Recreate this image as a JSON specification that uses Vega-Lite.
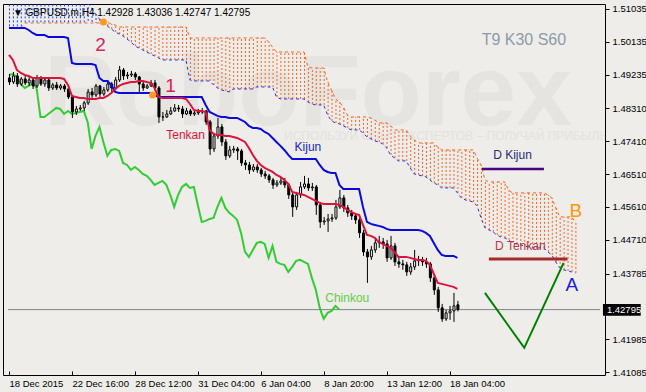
{
"$schema": "https://vega.github.io/schema/vega-lite/v6.json",
"width": 602, "height": 371,
"autosize": {"type": "none"},
"padding": {"left": 3, "top": 4, "right": 41, "bottom": 17},
"background": "#EEEDE9",
"config": {"view": {"stroke": "#000000", "strokeWidth": 1, "fill": "#EEEDE9"}, "font": "Liberation Sans"},
"resolve": {"axis": {"y": "independent"}},
"datasets": {
"candles": [
{"i":0,"o":1.49145,"h":1.49254,"l":1.48953,"c":1.49035,"t":1.49775,"k":1.50515},
{"i":1,"o":1.49035,"h":1.49309,"l":1.48980,"c":1.49200,"t":1.49638,"k":1.50515},
{"i":2,"o":1.49200,"h":1.49282,"l":1.48898,"c":1.48980,"t":1.49364,"k":1.50515},
{"i":3,"o":1.48980,"h":1.49172,"l":1.48926,"c":1.49117,"t":1.49282,"k":1.50515},
{"i":4,"o":1.49117,"h":1.49200,"l":1.48953,"c":1.49008,"t":1.49227,"k":1.50515},
{"i":5,"o":1.49008,"h":1.49172,"l":1.48926,"c":1.49090,"t":1.49200,"k":1.50460},
{"i":6,"o":1.49090,"h":1.49145,"l":1.48843,"c":1.48926,"t":1.49145,"k":1.50378},
{"i":7,"o":1.48926,"h":1.49227,"l":1.48871,"c":1.49145,"t":1.49145,"k":1.50323},
{"i":8,"o":1.49145,"h":1.49200,"l":1.48926,"c":1.48980,"t":1.49145,"k":1.50323},
{"i":9,"o":1.48980,"h":1.49145,"l":1.48898,"c":1.49090,"t":1.49145,"k":1.50323},
{"i":10,"o":1.49090,"h":1.49172,"l":1.48789,"c":1.48871,"t":1.49145,"k":1.50268},
{"i":11,"o":1.48871,"h":1.49008,"l":1.48816,"c":1.48953,"t":1.49145,"k":1.50268},
{"i":12,"o":1.48953,"h":1.49035,"l":1.48816,"c":1.48871,"t":1.49145,"k":1.50268},
{"i":13,"o":1.48871,"h":1.48980,"l":1.48816,"c":1.48926,"t":1.49145,"k":1.50268},
{"i":14,"o":1.48926,"h":1.48980,"l":1.48761,"c":1.48843,"t":1.49117,"k":1.50268},
{"i":15,"o":1.48843,"h":1.48926,"l":1.48569,"c":1.48624,"t":1.48953,"k":1.50241},
{"i":16,"o":1.48624,"h":1.48679,"l":1.48049,"c":1.48213,"t":1.48652,"k":1.49556},
{"i":17,"o":1.48213,"h":1.48378,"l":1.48131,"c":1.48295,"t":1.48624,"k":1.49528},
{"i":18,"o":1.48295,"h":1.48405,"l":1.48241,"c":1.48323,"t":1.48597,"k":1.49528},
{"i":19,"o":1.48323,"h":1.48515,"l":1.48241,"c":1.48460,"t":1.48597,"k":1.49528},
{"i":20,"o":1.48460,"h":1.48843,"l":1.48405,"c":1.48761,"t":1.48569,"k":1.49528},
{"i":21,"o":1.48761,"h":1.48871,"l":1.48597,"c":1.48679,"t":1.48569,"k":1.49528},
{"i":22,"o":1.48679,"h":1.48980,"l":1.48624,"c":1.48926,"t":1.48569,"k":1.49501},
{"i":23,"o":1.48926,"h":1.48953,"l":1.48624,"c":1.48706,"t":1.48597,"k":1.49145},
{"i":24,"o":1.48706,"h":1.48898,"l":1.48652,"c":1.48816,"t":1.48597,"k":1.49063},
{"i":25,"o":1.48816,"h":1.49090,"l":1.48761,"c":1.48980,"t":1.48652,"k":1.49063},
{"i":26,"o":1.48980,"h":1.49035,"l":1.48761,"c":1.48871,"t":1.48734,"k":1.48953},
{"i":27,"o":1.48871,"h":1.49172,"l":1.48816,"c":1.49090,"t":1.48843,"k":1.48761},
{"i":28,"o":1.49090,"h":1.49474,"l":1.49035,"c":1.49364,"t":1.48926,"k":1.48734},
{"i":29,"o":1.49364,"h":1.49419,"l":1.49090,"c":1.49200,"t":1.48980,"k":1.48734},
{"i":30,"o":1.49200,"h":1.49309,"l":1.49117,"c":1.49227,"t":1.49008,"k":1.48734},
{"i":31,"o":1.49227,"h":1.49337,"l":1.49172,"c":1.49254,"t":1.49035,"k":1.48734},
{"i":32,"o":1.49254,"h":1.49309,"l":1.49090,"c":1.49172,"t":1.49035,"k":1.48734},
{"i":33,"o":1.49172,"h":1.49200,"l":1.48761,"c":1.48980,"t":1.49063,"k":1.48734},
{"i":34,"o":1.48980,"h":1.49035,"l":1.48789,"c":1.48871,"t":1.49063,"k":1.48734},
{"i":35,"o":1.48871,"h":1.48980,"l":1.48843,"c":1.48926,"t":1.49035,"k":1.48734},
{"i":36,"o":1.48926,"h":1.49090,"l":1.48898,"c":1.49008,"t":1.49008,"k":1.48734},
{"i":37,"o":1.49008,"h":1.49090,"l":1.48789,"c":1.48871,"t":1.48871,"k":1.48679},
{"i":38,"o":1.48871,"h":1.48926,"l":1.47912,"c":1.48076,"t":1.48624,"k":1.48624},
{"i":39,"o":1.48076,"h":1.48213,"l":1.47967,"c":1.48076,"t":1.48597,"k":1.48624},
{"i":40,"o":1.48076,"h":1.48268,"l":1.48049,"c":1.48158,"t":1.48597,"k":1.48624},
{"i":41,"o":1.48158,"h":1.48350,"l":1.48131,"c":1.48241,"t":1.48597,"k":1.48624},
{"i":42,"o":1.48241,"h":1.48432,"l":1.48213,"c":1.48323,"t":1.48597,"k":1.48624},
{"i":43,"o":1.48323,"h":1.48405,"l":1.48213,"c":1.48295,"t":1.48597,"k":1.48624},
{"i":44,"o":1.48295,"h":1.48378,"l":1.48049,"c":1.48158,"t":1.48597,"k":1.48624},
{"i":45,"o":1.48158,"h":1.48323,"l":1.48131,"c":1.48241,"t":1.48569,"k":1.48624},
{"i":46,"o":1.48241,"h":1.48295,"l":1.48104,"c":1.48158,"t":1.48432,"k":1.48624},
{"i":47,"o":1.48158,"h":1.48268,"l":1.48104,"c":1.48186,"t":1.48268,"k":1.48624},
{"i":48,"o":1.48186,"h":1.48295,"l":1.48131,"c":1.48213,"t":1.48241,"k":1.48624},
{"i":49,"o":1.48213,"h":1.48323,"l":1.48158,"c":1.48241,"t":1.48241,"k":1.48624},
{"i":50,"o":1.48241,"h":1.48268,"l":1.47857,"c":1.47939,"t":1.48213,"k":1.48405},
{"i":51,"o":1.47939,"h":1.47994,"l":1.47035,"c":1.47199,"t":1.47720,"k":1.48213},
{"i":52,"o":1.47199,"h":1.47638,"l":1.47117,"c":1.47556,"t":1.47610,"k":1.48158},
{"i":53,"o":1.47556,"h":1.48049,"l":1.47473,"c":1.47802,"t":1.47583,"k":1.48104},
{"i":54,"o":1.47802,"h":1.47884,"l":1.47282,"c":1.47391,"t":1.47583,"k":1.48076},
{"i":55,"o":1.47391,"h":1.47473,"l":1.46898,"c":1.47008,"t":1.47556,"k":1.48076},
{"i":56,"o":1.47008,"h":1.47282,"l":1.46953,"c":1.47172,"t":1.47556,"k":1.48049},
{"i":57,"o":1.47172,"h":1.47282,"l":1.47090,"c":1.47199,"t":1.47528,"k":1.48049},
{"i":58,"o":1.47199,"h":1.47254,"l":1.46898,"c":1.47145,"t":1.47501,"k":1.48049},
{"i":59,"o":1.47145,"h":1.47199,"l":1.46734,"c":1.46816,"t":1.47446,"k":1.47994},
{"i":60,"o":1.46816,"h":1.46898,"l":1.46624,"c":1.46761,"t":1.47391,"k":1.47939},
{"i":61,"o":1.46761,"h":1.46843,"l":1.46514,"c":1.46624,"t":1.47227,"k":1.47830},
{"i":62,"o":1.46624,"h":1.46788,"l":1.46569,"c":1.46706,"t":1.47035,"k":1.47775},
{"i":63,"o":1.46706,"h":1.46788,"l":1.46542,"c":1.46624,"t":1.46871,"k":1.47775},
{"i":64,"o":1.46624,"h":1.46679,"l":1.46432,"c":1.46514,"t":1.46761,"k":1.47747},
{"i":65,"o":1.46514,"h":1.46597,"l":1.46377,"c":1.46460,"t":1.46679,"k":1.47665},
{"i":66,"o":1.46460,"h":1.46514,"l":1.46268,"c":1.46350,"t":1.46624,"k":1.47610},
{"i":67,"o":1.46350,"h":1.46405,"l":1.46103,"c":1.46213,"t":1.46569,"k":1.47501},
{"i":68,"o":1.46213,"h":1.46350,"l":1.46158,"c":1.46268,"t":1.46487,"k":1.47391},
{"i":69,"o":1.46268,"h":1.46405,"l":1.46213,"c":1.46323,"t":1.46432,"k":1.47282},
{"i":70,"o":1.46323,"h":1.46405,"l":1.46131,"c":1.46213,"t":1.46350,"k":1.47172},
{"i":71,"o":1.46213,"h":1.46268,"l":1.45829,"c":1.45939,"t":1.46240,"k":1.47035},
{"i":72,"o":1.45939,"h":1.45994,"l":1.45336,"c":1.45610,"t":1.46021,"k":1.46925},
{"i":73,"o":1.45610,"h":1.46021,"l":1.45528,"c":1.45939,"t":1.45994,"k":1.46925},
{"i":74,"o":1.45939,"h":1.46295,"l":1.45857,"c":1.46158,"t":1.45966,"k":1.46925},
{"i":75,"o":1.46158,"h":1.46460,"l":1.46103,"c":1.46240,"t":1.45939,"k":1.46925},
{"i":76,"o":1.46240,"h":1.46405,"l":1.46049,"c":1.46131,"t":1.45884,"k":1.46925},
{"i":77,"o":1.46131,"h":1.46268,"l":1.46049,"c":1.46158,"t":1.45829,"k":1.46925},
{"i":78,"o":1.46158,"h":1.46213,"l":1.45391,"c":1.45665,"t":1.45775,"k":1.46925},
{"i":79,"o":1.45665,"h":1.45747,"l":1.45035,"c":1.45199,"t":1.45720,"k":1.46761},
{"i":80,"o":1.45199,"h":1.45336,"l":1.45117,"c":1.45227,"t":1.45692,"k":1.46624},
{"i":81,"o":1.45227,"h":1.45418,"l":1.44925,"c":1.45281,"t":1.45692,"k":1.46569},
{"i":82,"o":1.45281,"h":1.45418,"l":1.45199,"c":1.45309,"t":1.45692,"k":1.46542},
{"i":83,"o":1.45309,"h":1.45802,"l":1.45254,"c":1.45610,"t":1.45692,"k":1.46542},
{"i":84,"o":1.45610,"h":1.46076,"l":1.45555,"c":1.45857,"t":1.45665,"k":1.46213},
{"i":85,"o":1.45857,"h":1.45939,"l":1.45473,"c":1.45583,"t":1.45610,"k":1.46103},
{"i":86,"o":1.45583,"h":1.45665,"l":1.45336,"c":1.45446,"t":1.45528,"k":1.46103},
{"i":87,"o":1.45446,"h":1.45528,"l":1.45254,"c":1.45364,"t":1.45473,"k":1.46103},
{"i":88,"o":1.45364,"h":1.45446,"l":1.45144,"c":1.45254,"t":1.45418,"k":1.46103},
{"i":89,"o":1.45254,"h":1.45336,"l":1.44761,"c":1.44898,"t":1.45391,"k":1.46103},
{"i":90,"o":1.44898,"h":1.44980,"l":1.44268,"c":1.44377,"t":1.45117,"k":1.45610},
{"i":91,"o":1.44377,"h":1.44459,"l":1.43528,"c":1.44240,"t":1.44843,"k":1.45199},
{"i":92,"o":1.44240,"h":1.44542,"l":1.44158,"c":1.44432,"t":1.44816,"k":1.45144},
{"i":93,"o":1.44432,"h":1.44761,"l":1.44350,"c":1.44624,"t":1.44761,"k":1.45117},
{"i":94,"o":1.44624,"h":1.44816,"l":1.44487,"c":1.44651,"t":1.44651,"k":1.45090},
{"i":95,"o":1.44651,"h":1.44761,"l":1.44459,"c":1.44596,"t":1.44596,"k":1.45062},
{"i":96,"o":1.44596,"h":1.44706,"l":1.44103,"c":1.44213,"t":1.44542,"k":1.45007},
{"i":97,"o":1.44213,"h":1.44816,"l":1.44158,"c":1.44542,"t":1.44487,"k":1.44980},
{"i":98,"o":1.44542,"h":1.44624,"l":1.43994,"c":1.44103,"t":1.44377,"k":1.44980},
{"i":99,"o":1.44103,"h":1.44213,"l":1.43939,"c":1.44048,"t":1.44240,"k":1.44980},
{"i":100,"o":1.44048,"h":1.44158,"l":1.43884,"c":1.44021,"t":1.44240,"k":1.44980},
{"i":101,"o":1.44021,"h":1.44103,"l":1.43720,"c":1.43829,"t":1.44240,"k":1.44980},
{"i":102,"o":1.43829,"h":1.44076,"l":1.43747,"c":1.43966,"t":1.44213,"k":1.44980},
{"i":103,"o":1.43966,"h":1.44432,"l":1.43884,"c":1.44131,"t":1.44185,"k":1.44980},
{"i":104,"o":1.44131,"h":1.44268,"l":1.43994,"c":1.44158,"t":1.44158,"k":1.44980},
{"i":105,"o":1.44158,"h":1.44240,"l":1.43994,"c":1.44103,"t":1.44158,"k":1.44953},
{"i":106,"o":1.44103,"h":1.44213,"l":1.43939,"c":1.44048,"t":1.44131,"k":1.44898},
{"i":107,"o":1.44048,"h":1.44103,"l":1.43555,"c":1.43665,"t":1.44021,"k":1.44816},
{"i":108,"o":1.43665,"h":1.43774,"l":1.43199,"c":1.43336,"t":1.43774,"k":1.44624},
{"i":109,"o":1.43336,"h":1.43418,"l":1.42733,"c":1.42843,"t":1.43528,"k":1.44432},
{"i":110,"o":1.42843,"h":1.42952,"l":1.42459,"c":1.42541,"t":1.43500,"k":1.44295},
{"i":111,"o":1.42541,"h":1.42788,"l":1.42487,"c":1.42706,"t":1.43473,"k":1.44268},
{"i":112,"o":1.42706,"h":1.42898,"l":1.42514,"c":1.42761,"t":1.43446,"k":1.44268},
{"i":113,"o":1.42761,"h":1.43254,"l":1.42459,"c":1.42898,"t":1.43418,"k":1.44268},
{"i":114,"o":1.42928,"h":1.43036,"l":1.42747,"c":1.42795,"t":1.43363,"k":1.44213}
],
"cloud": [
{"i":0,"a":1.516,"b":1.50515},{"i":1,"a":1.516,"b":1.50515},{"i":2,"a":1.516,"b":1.50515},{"i":3,"a":1.516,"b":1.50515},
{"i":4,"a":1.516,"b":1.50652},{"i":5,"a":1.516,"b":1.50652},{"i":6,"a":1.516,"b":1.50652},{"i":7,"a":1.516,"b":1.50652},
{"i":8,"a":1.516,"b":1.50652},{"i":9,"a":1.516,"b":1.50652},{"i":10,"a":1.516,"b":1.50652},{"i":11,"a":1.516,"b":1.50652},
{"i":12,"a":1.516,"b":1.50652},{"i":13,"a":1.516,"b":1.50652},{"i":14,"a":1.516,"b":1.50652},{"i":15,"a":1.516,"b":1.50652},
{"i":16,"a":1.516,"b":1.50652},{"i":17,"a":1.516,"b":1.50652},{"i":18,"a":1.516,"b":1.50652},{"i":19,"a":1.516,"b":1.50652},
{"i":20,"a":1.51200,"b":1.50652},{"i":21,"a":1.51063,"b":1.50652},{"i":22,"a":1.50898,"b":1.50652},{"i":23,"a":1.50761,"b":1.50652},
{"i":24,"a":1.50652,"b":1.50679},{"i":25,"a":1.50570,"b":1.50679},{"i":26,"a":1.50487,"b":1.50624},{"i":27,"a":1.50405,"b":1.50597},
{"i":28,"a":1.50350,"b":1.50542},{"i":29,"a":1.50296,"b":1.50542},{"i":30,"a":1.50213,"b":1.50542},{"i":31,"a":1.50131,"b":1.50542},
{"i":32,"a":1.50022,"b":1.50542},{"i":33,"a":1.49967,"b":1.50542},{"i":34,"a":1.49912,"b":1.50542},{"i":35,"a":1.49857,"b":1.50542},
{"i":36,"a":1.49802,"b":1.50542},{"i":37,"a":1.49748,"b":1.50542},{"i":38,"a":1.49693,"b":1.50542},{"i":39,"a":1.49638,"b":1.50542},
{"i":40,"a":1.49638,"b":1.50542},{"i":41,"a":1.49638,"b":1.50542},{"i":42,"a":1.49638,"b":1.50542},{"i":43,"a":1.49638,"b":1.50542},
{"i":44,"a":1.49638,"b":1.50542},{"i":45,"a":1.49638,"b":1.50542},{"i":46,"a":1.49090,"b":1.50241},{"i":47,"a":1.49063,"b":1.50241},
{"i":48,"a":1.49063,"b":1.50241},{"i":49,"a":1.49063,"b":1.50241},{"i":50,"a":1.49063,"b":1.50241},{"i":51,"a":1.49063,"b":1.50241},
{"i":52,"a":1.48953,"b":1.50241},{"i":53,"a":1.48871,"b":1.50241},{"i":54,"a":1.48816,"b":1.50241},{"i":55,"a":1.48789,"b":1.50241},
{"i":56,"a":1.48761,"b":1.50241},{"i":57,"a":1.48843,"b":1.50241},{"i":58,"a":1.48843,"b":1.50241},{"i":59,"a":1.48843,"b":1.50241},
{"i":60,"a":1.48843,"b":1.50241},{"i":61,"a":1.48843,"b":1.50241},{"i":62,"a":1.48843,"b":1.50241},{"i":63,"a":1.48898,"b":1.50241},
{"i":64,"a":1.48898,"b":1.50241},{"i":65,"a":1.48898,"b":1.50241},{"i":66,"a":1.48898,"b":1.50131},{"i":67,"a":1.48898,"b":1.49994},
{"i":68,"a":1.48624,"b":1.49857},{"i":69,"a":1.48569,"b":1.49857},{"i":70,"a":1.48569,"b":1.49857},{"i":71,"a":1.48569,"b":1.49857},
{"i":72,"a":1.48569,"b":1.49857},{"i":73,"a":1.48569,"b":1.49857},{"i":74,"a":1.48569,"b":1.49857},{"i":75,"a":1.48569,"b":1.49857},
{"i":76,"a":1.48487,"b":1.49446},{"i":77,"a":1.48432,"b":1.49419},{"i":78,"a":1.48405,"b":1.49419},{"i":79,"a":1.48405,"b":1.49419},
{"i":80,"a":1.48405,"b":1.49419},{"i":81,"a":1.48131,"b":1.49035},{"i":82,"a":1.47967,"b":1.48816},{"i":83,"a":1.47912,"b":1.48569},
{"i":84,"a":1.47884,"b":1.48487},{"i":85,"a":1.47830,"b":1.48350},{"i":86,"a":1.47775,"b":1.48131},{"i":87,"a":1.47720,"b":1.48076},
{"i":88,"a":1.47720,"b":1.48076},{"i":89,"a":1.47720,"b":1.48076},{"i":90,"a":1.47638,"b":1.48076},{"i":91,"a":1.47528,"b":1.48076},
{"i":92,"a":1.47473,"b":1.48049},{"i":93,"a":1.47419,"b":1.47994},{"i":94,"a":1.47391,"b":1.47912},{"i":95,"a":1.47336,"b":1.47912},
{"i":96,"a":1.47227,"b":1.47912},{"i":97,"a":1.47035,"b":1.47830},{"i":98,"a":1.46953,"b":1.47720},{"i":99,"a":1.46871,"b":1.47720},
{"i":100,"a":1.46871,"b":1.47720},{"i":101,"a":1.46871,"b":1.47720},{"i":102,"a":1.46679,"b":1.47556},{"i":103,"a":1.46514,"b":1.47446},
{"i":104,"a":1.46487,"b":1.47364},{"i":105,"a":1.46460,"b":1.47364},{"i":106,"a":1.46432,"b":1.47364},{"i":107,"a":1.46350,"b":1.47364},
{"i":108,"a":1.46268,"b":1.47364},{"i":109,"a":1.46213,"b":1.47254},{"i":110,"a":1.46131,"b":1.47172},{"i":111,"a":1.46131,"b":1.47172},
{"i":112,"a":1.46131,"b":1.47172},{"i":113,"a":1.46131,"b":1.47172},{"i":114,"a":1.45994,"b":1.47172},{"i":115,"a":1.45857,"b":1.47172},
{"i":116,"a":1.45802,"b":1.47172},{"i":117,"a":1.45775,"b":1.47172},{"i":118,"a":1.45747,"b":1.47172},{"i":119,"a":1.45638,"b":1.46953},
{"i":120,"a":1.45309,"b":1.46761},{"i":121,"a":1.45035,"b":1.46350},{"i":122,"a":1.44980,"b":1.46295},{"i":123,"a":1.44925,"b":1.46295},
{"i":124,"a":1.44843,"b":1.46295},{"i":125,"a":1.44788,"b":1.46295},{"i":126,"a":1.44761,"b":1.46295},{"i":127,"a":1.44706,"b":1.46076},
{"i":128,"a":1.44624,"b":1.45994},{"i":129,"a":1.44596,"b":1.45994},{"i":130,"a":1.44569,"b":1.45994},{"i":131,"a":1.44542,"b":1.45994},
{"i":132,"a":1.44514,"b":1.45994},{"i":133,"a":1.44487,"b":1.45994},{"i":134,"a":1.44487,"b":1.45994},{"i":135,"a":1.44487,"b":1.45994},
{"i":136,"a":1.44487,"b":1.45994},{"i":137,"a":1.44377,"b":1.45939},{"i":138,"a":1.44295,"b":1.45857},{"i":139,"a":1.44103,"b":1.45583},
{"i":140,"a":1.43939,"b":1.45336},{"i":141,"a":1.43884,"b":1.45336},{"i":142,"a":1.43857,"b":1.45336},{"i":143,"a":1.43829,"b":1.45336},
{"i":144,"a":1.43802,"b":1.45199}
],
"chinkou": [
{"i":0,"v":1.49227},{"i":1,"v":1.49254},{"i":2,"v":1.49172},{"i":3,"v":1.48980},{"i":4,"v":1.48871},{"i":5,"v":1.48926},
{"i":6,"v":1.49008},{"i":7,"v":1.48871},{"i":8,"v":1.48076},{"i":9,"v":1.48076},{"i":10,"v":1.48158},{"i":11,"v":1.48241},
{"i":12,"v":1.48323},{"i":13,"v":1.48295},{"i":14,"v":1.48158},{"i":15,"v":1.48241},{"i":16,"v":1.48158},{"i":17,"v":1.48186},
{"i":18,"v":1.48213},{"i":19,"v":1.48241},{"i":20,"v":1.47939},{"i":21,"v":1.47199},{"i":22,"v":1.47556},{"i":23,"v":1.47802},
{"i":24,"v":1.47391},{"i":25,"v":1.47008},{"i":26,"v":1.47172},{"i":27,"v":1.47199},{"i":28,"v":1.47145},{"i":29,"v":1.46816},
{"i":30,"v":1.46761},{"i":31,"v":1.46624},{"i":32,"v":1.46706},{"i":33,"v":1.46624},{"i":34,"v":1.46514},{"i":35,"v":1.46460},
{"i":36,"v":1.46350},{"i":37,"v":1.46213},{"i":38,"v":1.46268},{"i":39,"v":1.46323},{"i":40,"v":1.46213},{"i":41,"v":1.45939},
{"i":42,"v":1.45610},{"i":43,"v":1.45939},{"i":44,"v":1.46158},{"i":45,"v":1.46240},{"i":46,"v":1.46131},{"i":47,"v":1.46158},
{"i":48,"v":1.45665},{"i":49,"v":1.45199},{"i":50,"v":1.45227},{"i":51,"v":1.45281},{"i":52,"v":1.45309},{"i":53,"v":1.45610},
{"i":54,"v":1.45857},{"i":55,"v":1.45583},{"i":56,"v":1.45446},{"i":57,"v":1.45364},{"i":58,"v":1.45254},{"i":59,"v":1.44898},
{"i":60,"v":1.44377},{"i":61,"v":1.44240},{"i":62,"v":1.44432},{"i":63,"v":1.44624},{"i":64,"v":1.44651},{"i":65,"v":1.44596},
{"i":66,"v":1.44213},{"i":67,"v":1.44542},{"i":68,"v":1.44103},{"i":69,"v":1.44048},{"i":70,"v":1.44021},{"i":71,"v":1.43829},
{"i":72,"v":1.43966},{"i":73,"v":1.44131},{"i":74,"v":1.44158},{"i":75,"v":1.44103},{"i":76,"v":1.44048},{"i":77,"v":1.43665},
{"i":78,"v":1.43336},{"i":79,"v":1.42843},{"i":80,"v":1.42541},{"i":81,"v":1.42706},{"i":82,"v":1.42761},{"i":83,"v":1.42898},
{"i":84,"v":1.42795}
]
},
"encoding": {
"x": {"field": "i", "type": "quantitative", "scale": {"domain": [-0.25, 150.25], "nice": false, "zero": false},
"axis": {"title": null, "orient": "bottom", "values": [0,16,32,48,64,80,96,112],
"labelExpr": "['18 Dec 2015','22 Dec 16:00','28 Dec 12:00','31 Dec 04:00','6 Jan 04:00','8 Jan 20:00','13 Jan 12:00','18 Jan 04:00'][round(datum.value/16)]",
"labelAlign": "left", "labelFlush": false, "labelOverlap": false, "labelBound": false, "grid": false, "domain": false,
"ticks": true, "tickSize": -4, "tickColor": "#000000", "labelPadding": 7, "labelColor": "#000000",
"labelFont": "Liberation Sans", "labelFontSize": 9.5}}
},
"layer": [
{"data": {"values": [{"i": 76, "p": 1.47857, "label": "RoboForex"}]},
 "mark": {"type": "text", "fontSize": 100, "fontWeight": "bold", "color": "#E5E4E1", "align": "center", "baseline": "alphabetic", "clip": true},
 "encoding": {"y": {"field": "p", "type": "quantitative", "scale": {"domain": [1.41003, 1.51172], "nice": false, "zero": false}, "axis": null}, "text": {"field": "label"}}},
{"data": {"values": [{"i": 111, "p": 1.47556, "label": "ИСПОЛЬЗУЙ ОПЫТ ЭКСПЕРТОВ – ПОЛУЧАЙ ПРИБЫЛЬ"}]},
 "mark": {"type": "text", "fontSize": 12, "color": "#E3E2DF", "align": "center", "baseline": "middle", "clip": true},
 "encoding": {"y": {"field": "p", "type": "quantitative", "scale": {"domain": [1.41003, 1.51172], "nice": false, "zero": false}, "axis": null}, "text": {"field": "label"}}},
{"data": {"name": "cloud"},
 "mark": {"type": "rule", "strokeWidth": 1, "strokeDash": [2, 2], "xOffset": 0.5, "clip": true},
 "encoding": {"y": {"field": "a", "type": "quantitative", "scale": {"domain": [1.41003, 1.51172], "nice": false, "zero": false}, "axis": null},
  "y2": {"field": "b"},
  "color": {"condition": {"test": "datum.a > datum.b", "value": "#1E40FF"}, "value": "#FF5F1F"}}},
{"data": {"name": "cloud"},
 "mark": {"type": "line", "stroke": "#2233EE", "strokeWidth": 1, "strokeDash": [3, 3], "clip": true},
 "encoding": {"y": {"field": "a", "type": "quantitative", "scale": {"domain": [1.41003, 1.51172], "nice": false, "zero": false}, "axis": null}}},
{"data": {"name": "cloud"},
 "mark": {"type": "line", "stroke": "#FF5F1F", "strokeWidth": 1, "strokeDash": [3, 3], "clip": true},
 "encoding": {"y": {"field": "b", "type": "quantitative", "scale": {"domain": [1.41003, 1.51172], "nice": false, "zero": false}, "axis": null}}},
{"data": {"values": [{"i": -0.25, "i2": 150.25, "p": 1.42795}]},
 "mark": {"type": "rule", "stroke": "#7D8590", "strokeWidth": 1},
 "encoding": {"x2": {"field": "i2"},
  "y": {"field": "p", "type": "quantitative", "scale": {"domain": [1.41003, 1.51172], "nice": false, "zero": false},
   "axis": {"title": null, "orient": "right", "values": [1.51035,1.50135,1.49235,1.4831,1.4741,1.4651,1.4561,1.4471,1.43785,1.41985,1.41085],
    "format": ".5f", "grid": false, "domain": false, "ticks": true, "tickSize": 4, "tickColor": "#000000", "labelPadding": 3,
    "labelColor": "#000000", "labelFont": "Liberation Sans", "labelFontSize": 9.5, "labelOverlap": false, "labelFlush": false, "labelBound": false}}}},
{"data": {"name": "chinkou"},
 "mark": {"type": "line", "stroke": "#33CC33", "strokeWidth": 2, "clip": true},
 "encoding": {"y": {"field": "v", "type": "quantitative", "scale": {"domain": [1.41003, 1.51172], "nice": false, "zero": false}, "axis": null}}},
{"data": {"name": "candles"},
 "mark": {"type": "rule", "stroke": "#000000", "strokeWidth": 1, "xOffset": 0.5, "clip": true},
 "encoding": {"y": {"field": "h", "type": "quantitative", "scale": {"domain": [1.41003, 1.51172], "nice": false, "zero": false}, "axis": null}, "y2": {"field": "l"}}},
{"data": {"name": "candles"},
 "mark": {"type": "bar", "size": 2, "stroke": "#000000", "strokeWidth": 1, "xOffset": 0.5, "clip": true},
 "encoding": {"y": {"field": "o", "type": "quantitative", "scale": {"domain": [1.41003, 1.51172], "nice": false, "zero": false}, "axis": null}, "y2": {"field": "c"},
  "fill": {"condition": {"test": "datum.c > datum.o", "value": "#FFFFFF"}, "value": "#000000"}}},
{"data": {"name": "candles"},
 "mark": {"type": "line", "stroke": "#0A0ADD", "strokeWidth": 2, "clip": true},
 "encoding": {"y": {"field": "k", "type": "quantitative", "scale": {"domain": [1.41003, 1.51172], "nice": false, "zero": false}, "axis": null}}},
{"data": {"name": "candles"},
 "mark": {"type": "line", "stroke": "#DC143C", "strokeWidth": 2, "clip": true},
 "encoding": {"y": {"field": "t", "type": "quantitative", "scale": {"domain": [1.41003, 1.51172], "nice": false, "zero": false}, "axis": null}}},
{"data": {"values": [{"i": 120.25, "p": 1.46651}, {"i": 136, "p": 1.46651}]},
 "mark": {"type": "line", "stroke": "#4B0082", "strokeWidth": 2.5},
 "encoding": {"y": {"field": "p", "type": "quantitative", "scale": {"domain": [1.41003, 1.51172], "nice": false, "zero": false}, "axis": null}}},
{"data": {"values": [{"i": 122, "p": 1.44185}, {"i": 142, "p": 1.44185}]},
 "mark": {"type": "line", "stroke": "#A52A2A", "strokeWidth": 3},
 "encoding": {"y": {"field": "p", "type": "quantitative", "scale": {"domain": [1.41003, 1.51172], "nice": false, "zero": false}, "axis": null}}},
{"data": {"values": [{"i": 121, "p": 1.43254}, {"i": 131, "p": 1.41747}, {"i": 141, "p": 1.44076}]},
 "mark": {"type": "line", "stroke": "#008000", "strokeWidth": 2},
 "encoding": {"y": {"field": "p", "type": "quantitative", "scale": {"domain": [1.41003, 1.51172], "nice": false, "zero": false}, "axis": null}}},
{"data": {"values": [{"i": 24, "p": 1.50679}, {"i": 36.5, "p": 1.48679}]},
 "mark": {"type": "point", "filled": true, "size": 50, "color": "#FF9A1A", "opacity": 1},
 "encoding": {"y": {"field": "p", "type": "quantitative", "scale": {"domain": [1.41003, 1.51172], "nice": false, "zero": false}, "axis": null}}},
{"data": {"values": [{"i": 1, "p": 1.50925, "label": "▼ GBPUSD,m,H4  1.42928 1.43036 1.42747 1.42795"}]},
 "mark": {"type": "text", "fontSize": 10, "color": "#000000", "align": "left", "baseline": "middle"},
 "encoding": {"y": {"field": "p", "type": "quantitative", "scale": {"domain": [1.41003, 1.51172], "nice": false, "zero": false}, "axis": null}, "text": {"field": "label"}}},
{"data": {"values": [{"i": 130.9, "p": 1.50186, "label": "T9 K30 S60"}]},
 "mark": {"type": "text", "fontSize": 16, "color": "#8D9BAA", "align": "center", "baseline": "middle"},
 "encoding": {"y": {"field": "p", "type": "quantitative", "scale": {"domain": [1.41003, 1.51172], "nice": false, "zero": false}, "axis": null}, "text": {"field": "label"}}},
{"data": {"values": [{"i": 128, "p": 1.47035, "label": "D Kijun"}]},
 "mark": {"type": "text", "fontSize": 12, "color": "#2A2A7A", "align": "center", "baseline": "middle"},
 "encoding": {"y": {"field": "p", "type": "quantitative", "scale": {"domain": [1.41003, 1.51172], "nice": false, "zero": false}, "axis": null}, "text": {"field": "label"}}},
{"data": {"values": [{"i": 130, "p": 1.44542, "label": "D Tenkan"}]},
 "mark": {"type": "text", "fontSize": 12, "color": "#B83848", "align": "center", "baseline": "middle"},
 "encoding": {"y": {"field": "p", "type": "quantitative", "scale": {"domain": [1.41003, 1.51172], "nice": false, "zero": false}, "axis": null}, "text": {"field": "label"}}},
{"data": {"values": [{"i": 143.1, "p": 1.43459, "label": "A"}]},
 "mark": {"type": "text", "fontSize": 19, "color": "#1A1AE6", "align": "center", "baseline": "middle"},
 "encoding": {"y": {"field": "p", "type": "quantitative", "scale": {"domain": [1.41003, 1.51172], "nice": false, "zero": false}, "axis": null}, "text": {"field": "label"}}},
{"data": {"values": [{"i": 144.1, "p": 1.45487, "label": "B"}]},
 "mark": {"type": "text", "fontSize": 19, "color": "#FF9A00", "align": "center", "baseline": "middle"},
 "encoding": {"y": {"field": "p", "type": "quantitative", "scale": {"domain": [1.41003, 1.51172], "nice": false, "zero": false}, "axis": null}, "text": {"field": "label"}}},
{"data": {"values": [{"i": 41.1, "p": 1.48912, "label": "1"}, {"i": 23.25, "p": 1.50035, "label": "2"}]},
 "mark": {"type": "text", "fontSize": 19, "color": "#D8245A", "align": "center", "baseline": "middle"},
 "encoding": {"y": {"field": "p", "type": "quantitative", "scale": {"domain": [1.41003, 1.51172], "nice": false, "zero": false}, "axis": null}, "text": {"field": "label"}}},
{"data": {"values": [{"i": 44.9, "p": 1.47569, "label": "Tenkan"}]},
 "mark": {"type": "text", "fontSize": 12, "color": "#DC143C", "align": "center", "baseline": "middle"},
 "encoding": {"y": {"field": "p", "type": "quantitative", "scale": {"domain": [1.41003, 1.51172], "nice": false, "zero": false}, "axis": null}, "text": {"field": "label"}}},
{"data": {"values": [{"i": 76, "p": 1.4724, "label": "Kijun"}]},
 "mark": {"type": "text", "fontSize": 12, "color": "#2222CC", "align": "center", "baseline": "middle"},
 "encoding": {"y": {"field": "p", "type": "quantitative", "scale": {"domain": [1.41003, 1.51172], "nice": false, "zero": false}, "axis": null}, "text": {"field": "label"}}},
{"data": {"values": [{"i": 86, "p": 1.43117, "label": "Chinkou"}]},
 "mark": {"type": "text", "fontSize": 12, "color": "#66CC44", "align": "center", "baseline": "middle"},
 "encoding": {"y": {"field": "p", "type": "quantitative", "scale": {"domain": [1.41003, 1.51172], "nice": false, "zero": false}, "axis": null}, "text": {"field": "label"}}},
{"data": {"values": [{"i": 151, "i2": 160.6, "p": 1.42952, "p2": 1.42624}]},
 "mark": {"type": "rect", "color": "#000000", "clip": false},
 "encoding": {"x2": {"field": "i2"}, "y": {"field": "p", "type": "quantitative", "scale": {"domain": [1.41003, 1.51172], "nice": false, "zero": false}, "axis": null}, "y2": {"field": "p2"}}},
{"data": {"values": [{"i": 152, "p": 1.42795, "label": "1.42795"}]},
 "mark": {"type": "text", "fontSize": 9.5, "color": "#FFFFFF", "align": "left", "baseline": "middle", "clip": false},
 "encoding": {"y": {"field": "p", "type": "quantitative", "scale": {"domain": [1.41003, 1.51172], "nice": false, "zero": false}, "axis": null}, "text": {"field": "label"}}}
]
}
